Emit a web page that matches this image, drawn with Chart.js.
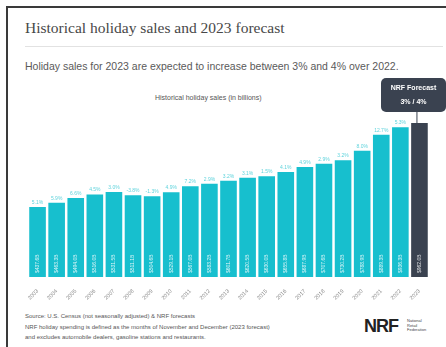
<!DOCTYPE html>
<html>
<head>
<meta charset="utf-8">
<script src="https://cdn.jsdelivr.net/npm/chart.js@4.4.0/dist/chart.umd.min.js"></script>
<style>
  html, body { margin: 0; padding: 0; background: #fff; }
  body { width: 446px; height: 347px; position: relative; overflow: hidden; font-family: "Liberation Sans", Arial, sans-serif; }
  .abs { position: absolute; white-space: nowrap; }
  #frameL { left: 6px; top: 6px; width: 2px; height: 341px; background: #3a3a3a; }
  #frameT { left: 6px; top: 6px; width: 440px; height: 2px; background: #3a3a3a; }
  #title { left: 25px; top: 19px; font: 15.5px "Liberation Serif", serif; color: #484848; }
  #rule { left: 25px; top: 46px; width: 418px; height: 1px; background: #e2e2e2; }
  #sub { left: 25px; top: 60px; font: 10.5px "Liberation Sans", sans-serif; color: #5a5a5a; }
  #inner { left: 155px; top: 94px; font: 7px "Liberation Sans", sans-serif; color: #555; }
  #foot { left: 25px; top: 311px; font: 6px/10.5px "Liberation Sans", sans-serif; color: #555; }
  #logo { left: 364px; top: 316px; font: bold 18px "Liberation Sans", sans-serif; color: #222; letter-spacing: -1px; }
  #logoTxt { left: 407px; top: 319px; font: 4px/4.5px "Liberation Sans", sans-serif; color: #444; }
  canvas { position: absolute; left: 0; top: 70px; }
</style>
</head>
<body>
<div class="abs" id="frameL"></div>
<div class="abs" id="frameT"></div>
<div class="abs" id="title">Historical holiday sales and 2023 forecast</div>
<div class="abs" id="rule"></div>
<div class="abs" id="sub">Holiday sales for 2023 are expected to increase between 3% and 4% over 2022.</div>
<div class="abs" id="inner">Historical holiday sales (in billions)</div>
<canvas id="chart" width="446" height="235"></canvas>
<div class="abs" id="foot">Source: U.S. Census (not seasonally adjusted) &amp; NRF forecasts<br>NRF holiday spending is defined as the months of November and December (2023 forecast)<br>and excludes automobile dealers, gasoline stations and restaurants.</div>
<div class="abs" id="logo">NRF</div>
<div class="abs" id="logoTxt">National<br>Retail<br>Federation</div>
<script>
const years = ['2003','2004','2005','2006','2007','2008','2009','2010','2011','2012','2013',
               '2014','2015','2016','2017','2018','2019','2020','2021','2022','2023'];
const sales = [437.6, 463.3, 494.0, 516.0, 531.5, 511.1, 504.6, 529.1, 567.0, 583.2, 601.7,
               620.5, 630.0, 655.8, 687.9, 707.6, 730.2, 788.9, 889.3, 936.3, 962.0];
const growth = ['5.1%','5.9%','6.6%','4.5%','3.0%','-3.8%','-1.3%','4.9%','7.2%','2.9%','3.2%',
                '3.1%','1.5%','4.1%','4.9%','2.9%','3.2%','8.0%','12.7%','5.3%',''];
const salesLabels = sales.map(v => '$' + v.toFixed(1) + 'B');
const forecastTitle = 'NRF Forecast';
const forecastRange = '3% / 4%';

const teal = '#17bfce';
const dark = '#3a4250';

const barLabels = {
  id: 'barLabels',
  afterDatasetsDraw(chart) {
    const ctx = chart.ctx;
    const meta = chart.getDatasetMeta(0);
    ctx.save();
    meta.data.forEach((bar, i) => {
      if (growth[i]) {
        ctx.fillStyle = '#5fd3dc';
        ctx.font = '5px "Liberation Sans", sans-serif';
        ctx.textAlign = 'center';
        ctx.textBaseline = 'bottom';
        ctx.fillText(growth[i], bar.x, bar.y - 2);
      }
      ctx.save();
      ctx.translate(bar.x, bar.base - 4);
      ctx.rotate(-Math.PI / 2);
      ctx.fillStyle = 'rgba(255,255,255,0.85)';
      ctx.font = '5px "Liberation Sans", sans-serif';
      ctx.textAlign = 'left';
      ctx.textBaseline = 'middle';
      ctx.fillText(salesLabels[i], 0, 0);
      ctx.restore();
    });
    ctx.restore();
  }
};

const callout = {
  id: 'callout',
  afterDraw(chart) {
    const ctx = chart.ctx;
    const meta = chart.getDatasetMeta(0);
    const bar = meta.data[meta.data.length - 1];
    const x0 = 381, x1 = 446, y0 = 8, y1 = 42;
    ctx.save();
    ctx.strokeStyle = dark;
    ctx.lineWidth = 1;
    ctx.beginPath();
    ctx.moveTo(bar.x - 2.5, y1);
    ctx.lineTo(bar.x - 2.5, bar.y);
    ctx.stroke();
    ctx.fillStyle = dark;
    ctx.beginPath();
    ctx.roundRect(x0, y0, x1 - x0, y1 - y0, 5);
    ctx.fill();
    ctx.fillStyle = '#fff';
    ctx.textAlign = 'center';
    ctx.textBaseline = 'middle';
    ctx.font = 'bold 7px "Liberation Sans", sans-serif';
    ctx.fillText(forecastTitle, (x0 + x1) / 2, y0 + 10);
    ctx.fillText(forecastRange, (x0 + x1) / 2, y0 + 24);
    ctx.restore();
  }
};

new Chart(document.getElementById('chart'), {
  type: 'bar',
  data: {
    labels: years,
    datasets: [{
      data: sales,
      backgroundColor: years.map((y, i) => i === years.length - 1 ? dark : teal),
      barPercentage: 0.87,
      categoryPercentage: 1
    }]
  },
  options: {
    responsive: false,
    animation: false,
    layout: { padding: { left: 28, right: 17, top: 47, bottom: 0 } },
    scales: {
      x: {
        grid: { display: false },
        border: { display: false },
        ticks: {
          color: '#888',
          font: { size: 5.5, family: 'Liberation Sans' },
          minRotation: 45,
          maxRotation: 45,
          padding: 3
        },
        afterFit(scale) { scale.height = 28; }
      },
      y: { display: false, min: 0, max: 1000 }
    },
    plugins: { legend: { display: false }, tooltip: { enabled: false } }
  },
  plugins: [barLabels, callout]
});
</script>
</body>
</html>
